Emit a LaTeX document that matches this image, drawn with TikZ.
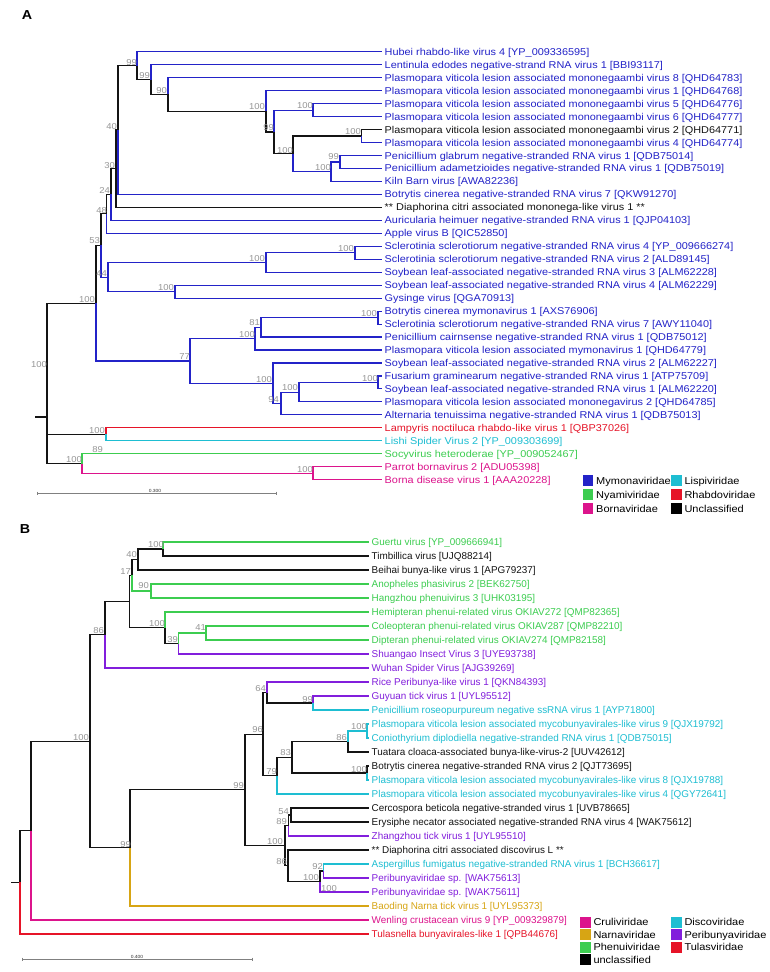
\documentclass[tikz,border=0pt]{standalone}
\usepackage{fontspec}
\setmainfont[FakeStretch=1.1]{Liberation Sans}
\newfontfamily\plainsans{Liberation Sans}
\usetikzlibrary{calc}
\definecolor{cB}{RGB}{35,35,200}
\definecolor{cG}{RGB}{60,205,80}
\definecolor{cP}{RGB}{220,20,140}
\definecolor{cC}{RGB}{30,190,210}
\definecolor{cR}{RGB}{230,20,40}
\definecolor{cY}{RGB}{215,165,20}
\definecolor{cU}{RGB}{130,30,220}
\definecolor{cK}{RGB}{20,20,20}
\definecolor{bsgray}{RGB}{150,150,150}
\newcommand{\tbr}[3]{\draw[br,#1] (#2) |- (#3);}
\begin{document}
\begin{tikzpicture}[x=1pt,y=-1pt,
 br/.style={line width=1.1pt},
 leaf/.style={anchor=west,inner xsep=2.5pt,inner ysep=0pt,font=\fontsize{9.9}{11}\selectfont,text height=7.1pt,text depth=0pt},
 leafb/.style={anchor=west,inner xsep=2.5pt,inner ysep=0pt,font=\plainsans\fontsize{9.9}{11}\selectfont,text height=7.1pt,text depth=0pt},
 bs/.style={anchor=east,inner sep=0pt,font=\fontsize{8.6}{10}\selectfont,text=bsgray,text height=6.2pt,text depth=0pt},
 sq/.style={minimum width=10.5pt,minimum height=11pt,inner sep=0pt,draw=none},
 lg/.style={anchor=west,inner sep=0pt,font=\fontsize{10}{11}\selectfont,text height=7.2pt,text depth=0pt},
 sbar/.style={draw=gray,line width=0.6pt},
 sbl/.style={font=\fontsize{4.5}{5}\selectfont,text=black!80,inner sep=0pt},
 plab/.style={font=\bfseries\fontsize{13}{13}\selectfont,inner sep=0pt}]
\useasboundingbox (0,0) rectangle (769,972);
\fill[white] (0,0) rectangle (769,972);

% ================= PANEL A =================
\node[plab] (labA) at (27,15) {A};
% leaves
\node[leaf,text=cB] (l1) at (382,51.7) {Hubei rhabdo-like virus 4 [YP\_009336595]};
\node[leaf,text=cB] (l2) at (382,64.67) {Lentinula edodes negative-strand RNA virus 1 [BBI93117]};
\node[leaf,text=cB] (l3) at (382,77.64) {Plasmopara viticola lesion associated mononegaambi virus 8 [QHD64783]};
\node[leaf,text=cB] (l4) at (382,90.61) {Plasmopara viticola lesion associated mononegaambi virus 1 [QHD64768]};
\node[leaf,text=cB] (l5) at (382,103.58) {Plasmopara viticola lesion associated mononegaambi virus 5 [QHD64776]};
\node[leaf,text=cB] (l6) at (382,116.55) {Plasmopara viticola lesion associated mononegaambi virus 6 [QHD64777]};
\node[leaf,text=cK] (l7) at (382,129.52) {Plasmopara viticola lesion associated mononegaambi virus 2 [QHD64771]};
\node[leaf,text=cB] (l8) at (382,142.49) {Plasmopara viticola lesion associated mononegaambi virus 4 [QHD64774]};
\node[leaf,text=cB] (l9) at (382,155.46) {Penicillium glabrum negative-stranded RNA virus 1 [QDB75014]};
\node[leaf,text=cB] (l10) at (382,168.43) {Penicillium adametzioides negative-stranded RNA virus 1 [QDB75019]};
\node[leaf,text=cB] (l11) at (382,181.4) {Kiln Barn virus [AWA82236]};
\node[leaf,text=cB] (l12) at (382,194.37) {Botrytis cinerea negative-stranded RNA virus 7 [QKW91270]};
\node[leaf,text=cK] (l13) at (382,207.34) {** Diaphorina citri associated mononega-like virus 1 **};
\node[leaf,text=cB] (l14) at (382,220.31) {Auricularia heimuer negative-stranded RNA virus 1 [QJP04103]};
\node[leaf,text=cB] (l15) at (382,233.28) {Apple virus B [QIC52850]};
\node[leaf,text=cB] (l16) at (382,246.25) {Sclerotinia sclerotiorum negative-stranded RNA virus 4 [YP\_009666274]};
\node[leaf,text=cB] (l17) at (382,259.22) {Sclerotinia sclerotiorum negative-stranded RNA virus 2 [ALD89145]};
\node[leaf,text=cB] (l18) at (382,272.19) {Soybean leaf-associated negative-stranded RNA virus 3 [ALM62228]};
\node[leaf,text=cB] (l19) at (382,285.16) {Soybean leaf-associated negative-stranded RNA virus 4 [ALM62229]};
\node[leaf,text=cB] (l20) at (382,298.13) {Gysinge virus [QGA70913]};
\node[leaf,text=cB] (l21) at (382,311.1) {Botrytis cinerea mymonavirus 1 [AXS76906]};
\node[leaf,text=cB] (l22) at (382,324.07) {Sclerotinia sclerotiorum negative-stranded RNA virus 7 [AWY11040]};
\node[leaf,text=cB] (l23) at (382,337.04) {Penicillium cairnsense negative-stranded RNA virus 1 [QDB75012]};
\node[leaf,text=cB] (l24) at (382,350.01) {Plasmopara viticola lesion associated mymonavirus 1 [QHD64779]};
\node[leaf,text=cB] (l25) at (382,362.98) {Soybean leaf-associated negative-stranded RNA virus 2 [ALM62227]};
\node[leaf,text=cB] (l26) at (382,375.95) {Fusarium graminearum negative-stranded RNA virus 1 [ATP75709]};
\node[leaf,text=cB] (l27) at (382,388.92) {Soybean leaf-associated negative-stranded RNA virus 1 [ALM62220]};
\node[leaf,text=cB] (l28) at (382,401.89) {Plasmopara viticola lesion associated mononegavirus 2 [QHD64785]};
\node[leaf,text=cB] (l29) at (382,414.86) {Alternaria tenuissima negative-stranded RNA virus 1 [QDB75013]};
\node[leaf,text=cR] (l30) at (382,427.83) {Lampyris noctiluca rhabdo-like virus 1 [QBP37026]};
\node[leaf,text=cC] (l31) at (382,440.8) {Lishi Spider Virus 2 [YP\_009303699]};
\node[leaf,text=cG] (l32) at (382,453.77) {Socyvirus heteroderae [YP\_009052467]};
\node[leaf,text=cP] (l33) at (382,466.74) {Parrot bornavirus 2 [ADU05398]};
\node[leaf,text=cP] (l34) at (382,479.71) {Borna disease virus 1 [AAA20228]};
% internal nodes
\coordinate (rAs) at (35,417);
\coordinate (rA) at (47,417);
\coordinate (a1n) at (96,303.21);
\coordinate (a53) at (101,245.47);
\coordinate (a48) at (106.5,213.88);
\coordinate (a24) at (111,194.49);
\coordinate (a30) at (116,168.67);
\coordinate (a40) at (118,130.0);
\coordinate (a99a) at (137,65.63);
\coordinate (a99b) at (151,79.57);
\coordinate (a90) at (168,94.46);
\coordinate (a100c) at (266,111.28);
\coordinate (a99c) at (274,131.95);
\coordinate (a100d) at (313,110.07);
\coordinate (a293) at (293,153.84);
\coordinate (a361) at (361.7,136.0);
\coordinate (a331) at (331,171.67);
\coordinate (a340) at (340,161.95);
\coordinate (a44) at (108,277.05);
\coordinate (a100f) at (266,262.46);
\coordinate (a100h) at (355,252.74);
\coordinate (a100g) at (175,291.65);
\coordinate (a77) at (190,360.95);
\coordinate (a100i) at (255,338.66);
\coordinate (a81) at (261,327.31);
\coordinate (a100k) at (378,317.59);
\coordinate (a100j) at (273,383.25);
\coordinate (a94) at (281,403.51);
\coordinate (a100l) at (299,392.16);
\coordinate (a100m) at (378,382.44);
\coordinate (aLL) at (106,434.32);
\coordinate (aSB) at (82,463.5);
\coordinate (aBo) at (313,473.23);
% branches
\draw[br,cK] (rAs) -- (rA);
\tbr{cK}{rA}{a1n}\tbr{cK}{rA}{aLL}\tbr{cK}{rA}{aSB}
\tbr{cK}{a1n}{a53}\tbr{cB}{a1n}{a77}
\tbr{cK}{a53}{a48}\tbr{cB}{a53}{a44}
\tbr{cK}{a48}{a24}\tbr{cB}{a48}{l15.west}
\tbr{cK}{a24}{a30}\tbr{cB}{a24}{l14.west}
\tbr{cK}{a30}{a40}\tbr{cK}{a30}{l13.west}
\tbr{cK}{a40}{a99a}\tbr{cB}{a40}{l12.west}
\tbr{cB}{a99a}{l1.west}\tbr{cK}{a99a}{a99b}
\tbr{cB}{a99b}{l2.west}\tbr{cK}{a99b}{a90}
\tbr{cB}{a90}{l3.west}\tbr{cK}{a90}{a100c}
\tbr{cB}{a100c}{l4.west}\tbr{cK}{a100c}{a99c}
\tbr{cB}{a99c}{a100d}\tbr{cK}{a99c}{a293}
\tbr{cB}{a100d}{l5.west}\tbr{cB}{a100d}{l6.west}
\tbr{cK}{a293}{a361}\tbr{cB}{a293}{a331}
\tbr{cK}{a361}{l7.west}\tbr{cB}{a361}{l8.west}
\tbr{cB}{a331}{a340}\tbr{cB}{a331}{l11.west}
\tbr{cB}{a340}{l9.west}\tbr{cB}{a340}{l10.west}
\tbr{cB}{a44}{a100f}\tbr{cB}{a44}{a100g}
\tbr{cB}{a100f}{a100h}\tbr{cB}{a100f}{l18.west}
\tbr{cB}{a100h}{l16.west}\tbr{cB}{a100h}{l17.west}
\tbr{cB}{a100g}{l19.west}\tbr{cB}{a100g}{l20.west}
\tbr{cB}{a77}{a100i}\tbr{cB}{a77}{a100j}
\tbr{cB}{a100i}{a81}\tbr{cB}{a100i}{l24.west}
\tbr{cB}{a81}{a100k}\tbr{cB}{a81}{l23.west}
\tbr{cB}{a100k}{l21.west}\tbr{cB}{a100k}{l22.west}
\tbr{cB}{a100j}{l25.west}\tbr{cB}{a100j}{a94}
\tbr{cB}{a94}{a100l}\tbr{cB}{a94}{l29.west}
\tbr{cB}{a100l}{a100m}\tbr{cB}{a100l}{l28.west}
\tbr{cB}{a100m}{l26.west}\tbr{cB}{a100m}{l27.west}
\tbr{cR}{aLL}{l30.west}\tbr{cC}{aLL}{l31.west}
\tbr{cG}{aSB}{l32.west}\tbr{cP}{aSB}{aBo}
\tbr{cP}{aBo}{l33.west}\tbr{cP}{aBo}{l34.west}
% bootstrap labels A
\node[bs] (ba1) at (137,62) {99};
\node[bs] (ba2) at (150,75) {99};
\node[bs] (ba3) at (167,90) {90};
\node[bs] (ba4) at (265,106.7) {100};
\node[bs] (ba5) at (313,105.7) {100};
\node[bs] (ba6) at (274,127.3) {99};
\node[bs] (ba7) at (117,126) {40};
\node[bs] (ba8) at (293,150) {100};
\node[bs] (ba9) at (361,131.7) {100};
\node[bs] (ba10) at (339,156.7) {99};
\node[bs] (ba11) at (331,167.3) {100};
\node[bs] (ba12) at (115,165) {30};
\node[bs] (ba13) at (110,190.7) {24};
\node[bs] (ba14) at (107,210) {48};
\node[bs] (ba15) at (100,240.7) {53};
\node[bs] (ba16) at (107,273.3) {44};
\node[bs] (ba17) at (265,258.3) {100};
\node[bs] (ba18) at (354,248.3) {100};
\node[bs] (ba19) at (174,287.3) {100};
\node[bs] (ba20) at (95,299) {100};
\node[bs] (ba21) at (260,322.7) {81};
\node[bs] (ba22) at (255,334.3) {100};
\node[bs] (ba23) at (377,313.3) {100};
\node[bs] (ba24) at (190,356.7) {77};
\node[bs] (ba25) at (272,379) {100};
\node[bs] (ba26) at (378,378.3) {100};
\node[bs] (ba27) at (298,387.7) {100};
\node[bs] (ba28) at (279,399) {94};
\node[bs] (ba29) at (47,364.3) {100};
\node[bs] (ba30) at (105,430) {100};
\node[bs] (ba31) at (103,449.3) {89};
\node[bs] (ba32) at (82,459.3) {100};
\node[bs] (ba33) at (313,469) {100};
% scale bar A
\coordinate (sA1) at (37,493);
\coordinate (sA2) at (276,493);
\draw[sbar] (sA1) -- (sA2);
\draw[sbar] ($(sA1)+(0,-1.5)$) -- ($(sA1)+(0,1.5)$);
\draw[sbar] ($(sA2)+(0,-1.5)$) -- ($(sA2)+(0,1.5)$);
\node[sbl] (sAl) at (155,490.5) {0.300};
% legend A
\node[sq,fill=cB] (qa1) at (588,480.5) {};
\node[lg] (ta1) at (596,480.5) {Mymonaviridae};
\node[sq,fill=cG] (qa2) at (588,494.5) {};
\node[lg] (ta2) at (596,494.5) {Nyamiviridae};
\node[sq,fill=cP] (qa3) at (588,508.5) {};
\node[lg] (ta3) at (596,508.5) {Bornaviridae};
\node[sq,fill=cC] (qa4) at (676.3,480.5) {};
\node[lg] (ta4) at (684.3,480.5) {Lispiviridae};
\node[sq,fill=cR] (qa5) at (676.3,494.5) {};
\node[lg] (ta5) at (684.3,494.5) {Rhabdoviridae};
\node[sq,fill=black] (qa6) at (676.3,508.5) {};
\node[lg] (ta6) at (684.3,508.5) {Unclassified};

% ================= PANEL B =================
\node[plab] (labB) at (25,529) {B};
\node[leafb,text=cG] (m1) at (369,542) {Guertu virus [YP\_009666941]};
\node[leafb,text=cK] (m2) at (369,556) {Timbillica virus [UJQ88214]};
\node[leafb,text=cK] (m3) at (369,570) {Beihai bunya-like virus 1 [APG79237]};
\node[leafb,text=cG] (m4) at (369,584) {Anopheles phasivirus 2 [BEK62750]};
\node[leafb,text=cG] (m5) at (369,598) {Hangzhou phenuivirus 3 [UHK03195]};
\node[leafb,text=cG] (m6) at (369,612) {Hemipteran phenui-related virus OKIAV272 [QMP82365]};
\node[leafb,text=cG] (m7) at (369,626) {Coleopteran phenui-related virus OKIAV287 [QMP82210]};
\node[leafb,text=cG] (m8) at (369,640) {Dipteran phenui-related virus OKIAV274 [QMP82158]};
\node[leafb,text=cU] (m9) at (369,654) {Shuangao Insect Virus 3 [UYE93738]};
\node[leafb,text=cU] (m10) at (369,668) {Wuhan Spider Virus [AJG39269]};
\node[leafb,text=cU] (m11) at (369,682) {Rice Peribunya-like virus 1 [QKN84393]};
\node[leafb,text=cU] (m12) at (369,696) {Guyuan tick virus 1 [UYL95512]};
\node[leafb,text=cC] (m13) at (369,710) {Penicillium roseopurpureum negative ssRNA virus 1 [AYP71800]};
\node[leafb,text=cC] (m14) at (369,724) {Plasmopara viticola lesion associated mycobunyavirales-like virus 9 [QJX19792]};
\node[leafb,text=cC] (m15) at (369,738) {Coniothyrium diplodiella negative-stranded RNA virus 1 [QDB75015]};
\node[leafb,text=cK] (m16) at (369,752) {Tuatara cloaca-associated bunya-like-virus-2 [UUV42612]};
\node[leafb,text=cK] (m17) at (369,766) {Botrytis cinerea negative-stranded RNA virus 2 [QJT73695]};
\node[leafb,text=cC] (m18) at (369,780) {Plasmopara viticola lesion associated mycobunyavirales-like virus 8 [QJX19788]};
\node[leafb,text=cC] (m19) at (369,794) {Plasmopara viticola lesion associated mycobunyavirales-like virus 4 [QGY72641]};
\node[leafb,text=cK] (m20) at (369,808) {Cercospora beticola negative-stranded virus 1 [UVB78665]};
\node[leafb,text=cK] (m21) at (369,822) {Erysiphe necator associated negative-stranded RNA virus 4 [WAK75612]};
\node[leafb,text=cU] (m22) at (369,836) {Zhangzhou tick virus 1 [UYL95510]};
\node[leafb,text=cK] (m23) at (369,850) {** Diaphorina citri associated discovirus L **};
\node[leafb,text=cC] (m24) at (369,864) {Aspergillus fumigatus negative-stranded RNA virus 1 [BCH36617]};
\node[leafb,text=cU] (m25) at (369,878) {Peribunyaviridae sp. [WAK75613]};
\node[leafb,text=cU] (m26) at (369,892) {Peribunyaviridae sp. [WAK75611]};
\node[leafb,text=cY] (m27) at (369,906) {Baoding Narna tick virus 1 [UYL95373]};
\node[leafb,text=cP] (m28) at (369,920) {Wenling crustacean virus 9 [YP\_009329879]};
\node[leafb,text=cR] (m29) at (369,934) {Tulasnella bunyavirales-like 1 [QPB44676]};
% internal nodes B
\coordinate (rBs) at (11,882.33);
\coordinate (rB) at (20,882.33);
\coordinate (bW) at (31,830.67);
\coordinate (b100) at (90,741.34);
\coordinate (b86) at (105,634.75);
\coordinate (bx) at (129.5,601.5);
\coordinate (b17) at (132,575.25);
\coordinate (b40) at (138,559.5);
\coordinate (bg1) at (163,549);
\coordinate (b90) at (151,591);
\coordinate (b100p) at (165,627.75);
\coordinate (b39) at (178.7,643.5);
\coordinate (b41) at (206,633);
\coordinate (b99z) at (130,847.92);
\coordinate (b99y) at (245,789.84);
\coordinate (b96) at (263,734.06);
\coordinate (b64) at (267,692.5);
\coordinate (b99g) at (313,703);
\coordinate (b79) at (277,775.63);
\coordinate (b83) at (292,757.25);
\coordinate (b86b) at (348,741.5);
\coordinate (b100s) at (367,731);
\coordinate (b100r) at (367,773);
\coordinate (b100q) at (285,845.63);
\coordinate (b89) at (288.7,825.5);
\coordinate (b54) at (291,815);
\coordinate (b86c) at (288,865.75);
\coordinate (b100t) at (320,881.5);
\coordinate (b92) at (323.7,871);
% branches B
\draw[br,cK] (rBs) -- (rB);
\tbr{cK}{rB}{bW}\tbr{cR}{rB}{m29.west}
\tbr{cK}{bW}{b100}\tbr{cP}{bW}{m28.west}
\tbr{cK}{b100}{b86}\tbr{cK}{b100}{b99z}
\tbr{cK}{b86}{bx}\tbr{cU}{b86}{m10.west}
\tbr{cK}{bx}{b17}\tbr{cK}{bx}{b100p}
\tbr{cK}{b17}{b40}\tbr{cG}{b17}{b90}
\tbr{cK}{b40}{bg1}\tbr{cK}{b40}{m3.west}
\tbr{cG}{bg1}{m1.west}\tbr{cK}{bg1}{m2.west}
\tbr{cG}{b90}{m4.west}\tbr{cG}{b90}{m5.west}
\tbr{cG}{b100p}{m6.west}\tbr{cK}{b100p}{b39}
\tbr{cG}{b39}{b41}\tbr{cU}{b39}{m9.west}
\tbr{cG}{b41}{m7.west}\tbr{cG}{b41}{m8.west}
\tbr{cK}{b99z}{b99y}\tbr{cY}{b99z}{m27.west}
\tbr{cK}{b99y}{b96}\tbr{cK}{b99y}{b100q}
\tbr{cK}{b96}{b64}\tbr{cK}{b96}{b79}
\tbr{cU}{b64}{m11.west}\tbr{cK}{b64}{b99g}
\tbr{cU}{b99g}{m12.west}\tbr{cC}{b99g}{m13.west}
\tbr{cK}{b79}{b83}\tbr{cC}{b79}{m19.west}
\tbr{cK}{b83}{b86b}\tbr{cK}{b83}{b100r}
\tbr{cC}{b86b}{b100s}\tbr{cK}{b86b}{m16.west}
\tbr{cC}{b100s}{m14.west}\tbr{cC}{b100s}{m15.west}
\tbr{cK}{b100r}{m17.west}\tbr{cC}{b100r}{m18.west}
\tbr{cK}{b100q}{b89}\tbr{cK}{b100q}{b86c}
\tbr{cK}{b89}{b54}\tbr{cU}{b89}{m22.west}
\tbr{cK}{b54}{m20.west}\tbr{cK}{b54}{m21.west}
\tbr{cK}{b86c}{m23.west}\tbr{cK}{b86c}{b100t}
\tbr{cK}{b100t}{b92}\tbr{cU}{b100t}{m26.west}
\tbr{cC}{b92}{m24.west}\tbr{cU}{b92}{m25.west}
% bootstrap labels B
\node[bs] (bb1) at (164,544.3) {100};
\node[bs] (bb2) at (137,554.3) {40};
\node[bs] (bb3) at (131,571.7) {17};
\node[bs] (bb4) at (149,585.7) {90};
\node[bs] (bb5) at (165,623.3) {100};
\node[bs] (bb6) at (206,627.3) {41};
\node[bs] (bb7) at (178,639) {39};
\node[bs] (bb8) at (104,630) {86};
\node[bs] (bb9) at (266,688.3) {64};
\node[bs] (bb10) at (313,699) {99};
\node[bs] (bb11) at (367,726) {100};
\node[bs] (bb12) at (347,737.3) {86};
\node[bs] (bb13) at (263,729.3) {96};
\node[bs] (bb14) at (89,737.3) {100};
\node[bs] (bb15) at (291,752.3) {83};
\node[bs] (bb16) at (367,769) {100};
\node[bs] (bb17) at (277,771.7) {79};
\node[bs] (bb18) at (244,785) {99};
\node[bs] (bb19) at (289,811) {54};
\node[bs] (bb20) at (287,821) {89};
\node[bs] (bb21) at (283,841) {100};
\node[bs] (bb22) at (131,844) {99};
\node[bs] (bb23) at (287,861.7) {86};
\node[bs] (bb24) at (323,866.7) {92};
\node[bs] (bb25) at (319,877.7) {100};
\node[bs] (bb26) at (337,888.3) {100};
% scale bar B
\coordinate (sB1) at (22,959);
\coordinate (sB2) at (252,959);
\draw[sbar] (sB1) -- (sB2);
\draw[sbar] ($(sB1)+(0,-1.5)$) -- ($(sB1)+(0,1.5)$);
\draw[sbar] ($(sB2)+(0,-1.5)$) -- ($(sB2)+(0,1.5)$);
\node[sbl] (sBl) at (137,956.5) {0.400};
% legend B
\node[sq,fill=cP] (qb1) at (585.7,922) {};
\node[lg] (tb1) at (593.3,922) {Cruliviridae};
\node[sq,fill=cY] (qb2) at (585.7,934.5) {};
\node[lg] (tb2) at (593.3,934.5) {Narnaviridae};
\node[sq,fill=cG] (qb3) at (585.7,947) {};
\node[lg] (tb3) at (593.3,947) {Phenuiviridae};
\node[sq,fill=black] (qb4) at (585.7,959.5) {};
\node[lg] (tb4) at (593.3,959.5) {unclassified};
\node[sq,fill=cC] (qb5) at (676.7,922) {};
\node[lg] (tb5) at (684.3,922) {Discoviridae};
\node[sq,fill=cU] (qb6) at (676.7,934.5) {};
\node[lg] (tb6) at (684.3,934.5) {Peribunyaviridae};
\node[sq,fill=cR] (qb7) at (676.7,947) {};
\node[lg] (tb7) at (684.3,947) {Tulasviridae};
\end{tikzpicture}
\end{document}
